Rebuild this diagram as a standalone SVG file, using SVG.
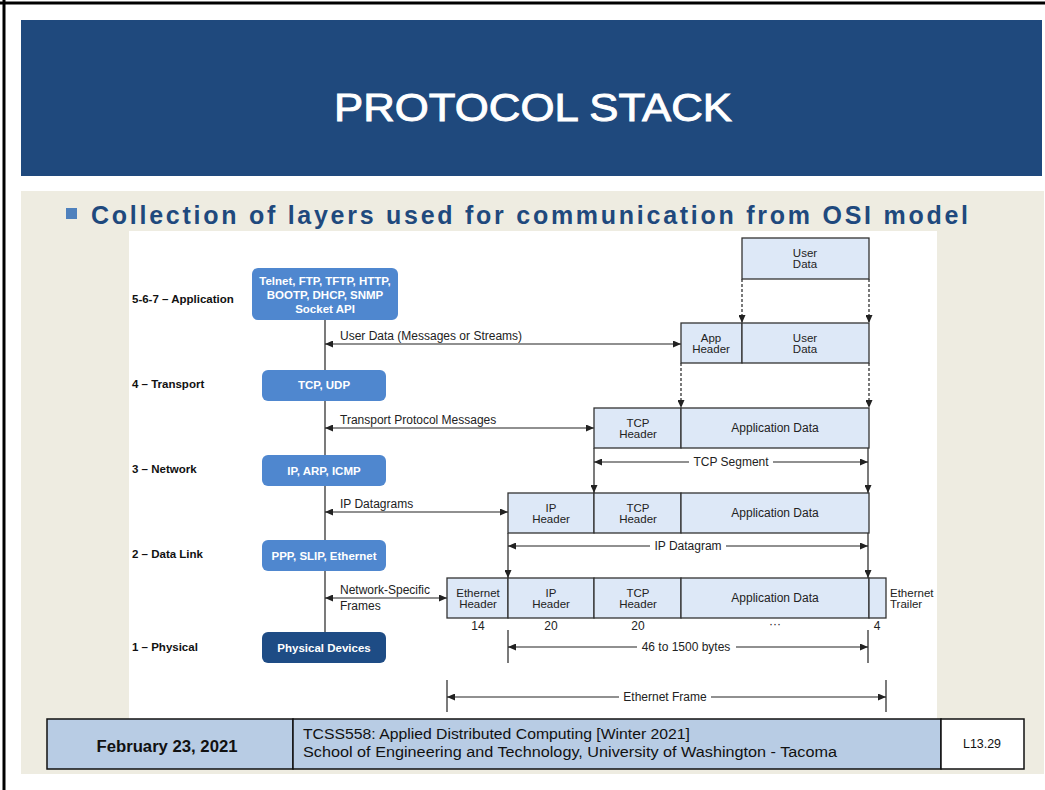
<svg xmlns="http://www.w3.org/2000/svg" width="1045" height="790" viewBox="0 0 1045 790">
<defs>
<style>
.t{font-family:"Liberation Sans",Arial,sans-serif;font-size:12px;fill:#222}
.t2{font-family:"Liberation Sans",Arial,sans-serif;font-size:11.5px;fill:#222;text-anchor:middle}
.tm{text-anchor:middle}
.lay{font-family:"Liberation Sans",Arial,sans-serif;font-size:11.5px;font-weight:bold;fill:#111}
.bt{font-family:"Liberation Sans",Arial,sans-serif;font-size:11.5px;font-weight:bold;fill:#fff;text-anchor:middle}
.cell{fill:#DDE8F7;stroke:#333;stroke-width:1.3}
.sb{fill:#4F87CF}
.sd{fill:#1E4C85}
.ln{stroke:#222;stroke-width:1.2;fill:none}
.dl{stroke:#222;stroke-width:1.2;fill:none;stroke-dasharray:3,2}
.ft{font-family:"Liberation Sans",Arial,sans-serif;fill:#111}
</style>
<marker id="ah" viewBox="0 0 8 7" refX="8" refY="3.5" markerWidth="8" markerHeight="7" markerUnits="userSpaceOnUse" orient="auto-start-reverse">
<path d="M0,0 L8,3.5 L0,7 z" fill="#222"/>
</marker>
</defs>
<rect x="0" y="0" width="1045" height="790" fill="#fff"/>
<line x1="0" y1="3" x2="1045" y2="3" stroke="#000" stroke-width="3"/>
<line x1="4" y1="0" x2="4" y2="790" stroke="#000" stroke-width="3"/>
<g id="banner">
<rect x="21" y="20" width="1021" height="156" fill="#1F497D"/>
<text x="533" y="121" text-anchor="middle" font-family="Liberation Sans,Arial,sans-serif" font-size="39" fill="#fff" stroke="#fff" stroke-width="0.9" textLength="398" lengthAdjust="spacingAndGlyphs">PROTOCOL STACK</text>
</g>
<rect x="21" y="191" width="1023" height="583" fill="#EEECE1"/>
<g id="bullet">
<rect x="66" y="208" width="11" height="11" fill="#4F81BD"/>
<text x="91" y="224" font-family="Liberation Sans,Arial,sans-serif" font-size="25" font-weight="bold" fill="#1F497D" textLength="877" lengthAdjust="spacing">Collection of layers used for communication from OSI model</text>
</g>
<rect x="129" y="231" width="808" height="488" fill="#fff"/>

<g id="layer-labels">
<text class="lay" x="132" y="303">5-6-7 – Application</text>
<text class="lay" x="132" y="388">4 – Transport</text>
<text class="lay" x="132" y="473">3 – Network</text>
<text class="lay" x="132" y="558">2 – Data Link</text>
<text class="lay" x="132" y="651">1 – Physical</text>
</g>

<g id="connectors">
<line class="ln" x1="325" y1="320" x2="325" y2="632"/>
<line class="ln" x1="325" y1="344" x2="681" y2="344" marker-start="url(#ah)" marker-end="url(#ah)"/>
<line class="ln" x1="325" y1="428" x2="594" y2="428" marker-start="url(#ah)" marker-end="url(#ah)"/>
<line class="ln" x1="325" y1="512" x2="508" y2="512" marker-start="url(#ah)" marker-end="url(#ah)"/>
<line class="ln" x1="325" y1="598" x2="447" y2="598" marker-start="url(#ah)" marker-end="url(#ah)"/>
<line class="dl" x1="742" y1="279" x2="742" y2="323" marker-end="url(#ah)"/>
<line class="dl" x1="869" y1="279" x2="869" y2="323" marker-end="url(#ah)"/>
<line class="dl" x1="681" y1="363" x2="681" y2="408" marker-end="url(#ah)"/>
<line class="dl" x1="869" y1="363" x2="869" y2="408" marker-end="url(#ah)"/>
<line class="ln" x1="594" y1="448" x2="594" y2="493" marker-end="url(#ah)"/>
<line class="ln" x1="868" y1="448" x2="868" y2="493" marker-end="url(#ah)"/>
<line class="ln" x1="508" y1="533" x2="508" y2="578" marker-end="url(#ah)"/>
<line class="ln" x1="868" y1="533" x2="868" y2="578" marker-end="url(#ah)"/>
<line class="ln" x1="594" y1="462" x2="689" y2="462" marker-start="url(#ah)"/>
<line class="ln" x1="773" y1="462" x2="868" y2="462" marker-end="url(#ah)"/>
<line class="ln" x1="508" y1="546" x2="650" y2="546" marker-start="url(#ah)"/>
<line class="ln" x1="726" y1="546" x2="868" y2="546" marker-end="url(#ah)"/>
<line class="ln" x1="508" y1="630" x2="508" y2="663"/>
<line class="ln" x1="868" y1="630" x2="868" y2="663"/>
<line class="ln" x1="508" y1="647" x2="637" y2="647" marker-start="url(#ah)"/>
<line class="ln" x1="736" y1="647" x2="868" y2="647" marker-end="url(#ah)"/>
<line class="ln" x1="447" y1="680" x2="447" y2="712"/>
<line class="ln" x1="886" y1="680" x2="886" y2="712"/>
<line class="ln" x1="447" y1="697" x2="619" y2="697" marker-start="url(#ah)"/>
<line class="ln" x1="711" y1="697" x2="886" y2="697" marker-end="url(#ah)"/>
</g>

<g id="connector-labels">
<text class="t" x="340" y="340">User Data (Messages or Streams)</text>
<text class="t" x="340" y="424">Transport Protocol Messages</text>
<text class="t" x="340" y="508">IP Datagrams</text>
<text class="t" x="340" y="594">Network-Specific</text>
<text class="t" x="340" y="610">Frames</text>
<text class="t tm" x="731" y="466">TCP Segment</text>
<text class="t tm" x="688" y="550">IP Datagram</text>
<text class="t tm" x="686" y="651">46 to 1500 bytes</text>
<text class="t tm" x="665" y="701">Ethernet Frame</text>
<text class="t tm" x="478" y="630">14</text>
<text class="t tm" x="551" y="630">20</text>
<text class="t tm" x="638" y="630">20</text>
<text class="t tm" x="775" y="628">···</text>
<text class="t tm" x="877" y="630">4</text>
</g>

<g id="app-box">
<rect class="sb" x="252" y="268" width="146" height="52" rx="6"/>
<text class="bt" x="325" y="285">Telnet, FTP, TFTP, HTTP,</text>
<text class="bt" x="325" y="299">BOOTP, DHCP, SNMP</text>
<text class="bt" x="325" y="313">Socket API</text>
</g>
<g id="transport-box">
<rect class="sb" x="262" y="370" width="124" height="31" rx="6"/>
<text class="bt" x="324" y="389">TCP, UDP</text>
</g>
<g id="network-box">
<rect class="sb" x="262" y="455" width="124" height="31" rx="6"/>
<text class="bt" x="324" y="475">IP, ARP, ICMP</text>
</g>
<g id="datalink-box">
<rect class="sb" x="262" y="540" width="124" height="31" rx="6"/>
<text class="bt" x="324" y="560">PPP, SLIP, Ethernet</text>
</g>
<g id="physical-box">
<rect class="sd" x="262" y="632" width="124" height="31" rx="6"/>
<text class="bt" x="324" y="652">Physical Devices</text>
</g>

<g id="row-user">
<rect class="cell" x="742" y="238" width="127" height="41"/>
<text class="t2" x="805" y="256.5">User</text>
<text class="t2" x="805" y="268">Data</text>
</g>
<g id="row-app">
<rect class="cell" x="681" y="323" width="61" height="40"/>
<rect class="cell" x="742" y="323" width="127" height="40"/>
<text class="t2" x="711" y="341.5">App</text>
<text class="t2" x="711" y="353">Header</text>
<text class="t2" x="805" y="341.5">User</text>
<text class="t2" x="805" y="353">Data</text>
</g>
<g id="row-tcp">
<rect class="cell" x="594" y="408" width="87" height="40"/>
<rect class="cell" x="681" y="408" width="188" height="40"/>
<text class="t2" x="638" y="426.5">TCP</text>
<text class="t2" x="638" y="438">Header</text>
<text class="t tm" x="775" y="432">Application Data</text>
</g>
<g id="row-ip">
<rect class="cell" x="508" y="493" width="86" height="40"/>
<rect class="cell" x="594" y="493" width="87" height="40"/>
<rect class="cell" x="681" y="493" width="188" height="40"/>
<text class="t2" x="551" y="511.5">IP</text>
<text class="t2" x="551" y="523">Header</text>
<text class="t2" x="638" y="511.5">TCP</text>
<text class="t2" x="638" y="523">Header</text>
<text class="t tm" x="775" y="517">Application Data</text>
</g>
<g id="row-eth">
<rect class="cell" x="447" y="578" width="61" height="40"/>
<rect class="cell" x="508" y="578" width="86" height="40"/>
<rect class="cell" x="594" y="578" width="87" height="40"/>
<rect class="cell" x="681" y="578" width="188" height="40"/>
<rect class="cell" x="869" y="578" width="17" height="40"/>
<text class="t2" x="478" y="596.5">Ethernet</text>
<text class="t2" x="478" y="608">Header</text>
<text class="t2" x="551" y="596.5">IP</text>
<text class="t2" x="551" y="608">Header</text>
<text class="t2" x="638" y="596.5">TCP</text>
<text class="t2" x="638" y="608">Header</text>
<text class="t tm" x="775" y="602">Application Data</text>
<text class="t2" x="890" y="596.5" style="text-anchor:start">Ethernet</text>
<text class="t2" x="890" y="608" style="text-anchor:start">Trailer</text>
</g>

<g id="footer">
<rect x="47" y="719" width="246" height="50" fill="#B8CCE4" stroke="#111" stroke-width="1.5"/>
<rect x="293" y="719" width="648" height="50" fill="#B8CCE4" stroke="#111" stroke-width="1.5"/>
<rect x="941" y="719" width="83" height="50" fill="#fff" stroke="#111" stroke-width="1.5"/>
<text class="ft" x="167" y="752" text-anchor="middle" font-size="16" font-weight="bold" textLength="141" lengthAdjust="spacingAndGlyphs">February 23, 2021</text>
<text class="ft" x="303" y="739" font-size="14" textLength="387" lengthAdjust="spacingAndGlyphs">TCSS558: Applied Distributed Computing [Winter 2021]</text>
<text class="ft" x="303" y="757" font-size="14" textLength="534" lengthAdjust="spacingAndGlyphs">School of Engineering and Technology, University of Washington - Tacoma</text>
<text class="ft" x="982" y="748" text-anchor="middle" font-size="12.5" textLength="38" lengthAdjust="spacingAndGlyphs">L13.29</text>
</g>
</svg>
